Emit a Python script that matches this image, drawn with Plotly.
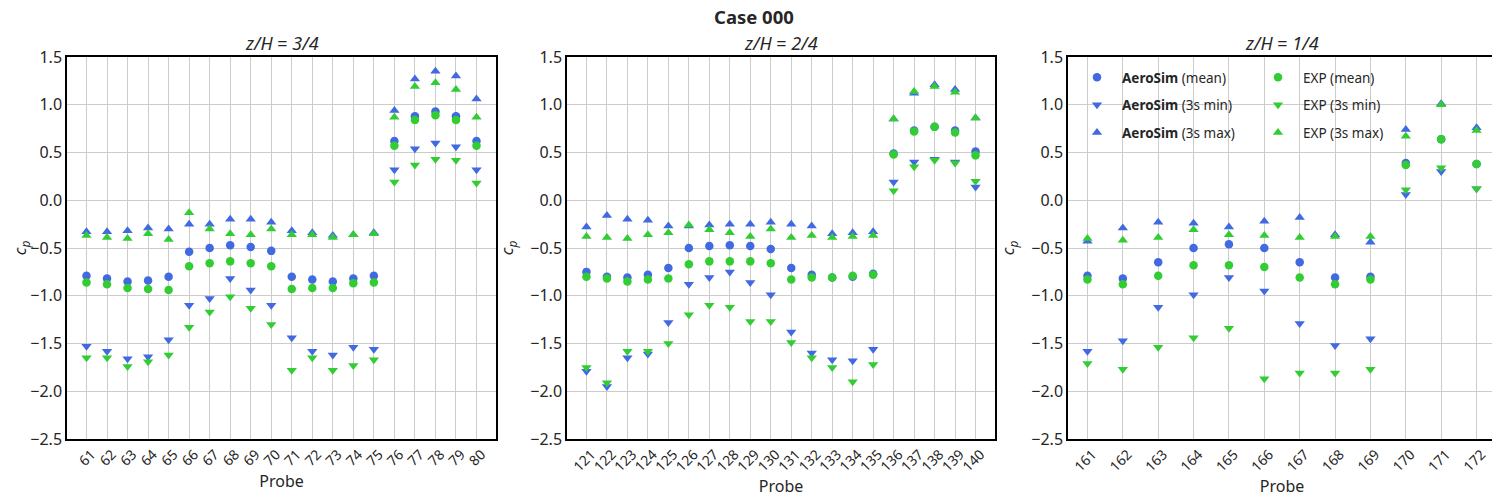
import plotly.graph_objects as go

# ---------------- data ----------------
probes1 = list(range(61, 81))
probes2 = list(range(121, 141))
probes3 = list(range(161, 173))

a1_mean = [-0.79, -0.82, -0.85, -0.84, -0.80, -0.54, -0.50, -0.47, -0.49, -0.53, -0.80, -0.83, -0.85, -0.82, -0.79, 0.62, 0.88, 0.93, 0.88, 0.62]
a1_min = [-1.53, -1.58, -1.66, -1.64, -1.46, -1.10, -1.03, -0.82, -0.94, -1.10, -1.44, -1.58, -1.62, -1.54, -1.56, 0.32, 0.54, 0.60, 0.56, 0.32]
a1_max = [-0.33, -0.33, -0.32, -0.29, -0.30, -0.25, -0.25, -0.20, -0.20, -0.23, -0.32, -0.34, -0.37, -0.36, -0.34, 0.94, 1.27, 1.35, 1.30, 1.06]
e1_mean = [-0.86, -0.88, -0.92, -0.93, -0.94, -0.69, -0.66, -0.64, -0.66, -0.69, -0.93, -0.92, -0.92, -0.87, -0.86, 0.57, 0.84, 0.89, 0.84, 0.57]
e1_min = [-1.65, -1.65, -1.74, -1.69, -1.62, -1.33, -1.17, -1.01, -1.13, -1.30, -1.78, -1.65, -1.78, -1.73, -1.67, 0.19, 0.37, 0.43, 0.42, 0.18]
e1_max = [-0.37, -0.39, -0.40, -0.35, -0.41, -0.13, -0.30, -0.35, -0.36, -0.30, -0.36, -0.36, -0.39, -0.36, -0.35, 0.87, 1.19, 1.23, 1.16, 0.87]

a2_mean = [-0.75, -0.80, -0.81, -0.78, -0.71, -0.50, -0.48, -0.47, -0.48, -0.51, -0.71, -0.78, -0.81, -0.80, -0.77, 0.49, 0.73, 0.77, 0.73, 0.51]
a2_min = [-1.79, -1.95, -1.65, -1.61, -1.28, -0.88, -0.81, -0.75, -0.86, -0.99, -1.38, -1.60, -1.67, -1.68, -1.56, 0.19, 0.40, 0.43, 0.40, 0.14]
a2_max = [-0.28, -0.16, -0.20, -0.21, -0.27, -0.27, -0.26, -0.25, -0.25, -0.23, -0.25, -0.27, -0.35, -0.34, -0.33, 0.85, 1.12, 1.21, 1.16, 0.86]
e2_mean = [-0.80, -0.82, -0.85, -0.83, -0.82, -0.67, -0.64, -0.64, -0.64, -0.66, -0.83, -0.81, -0.81, -0.79, -0.78, 0.48, 0.72, 0.77, 0.71, 0.47]
e2_min = [-1.75, -1.91, -1.58, -1.58, -1.50, -1.20, -1.10, -1.12, -1.27, -1.27, -1.49, -1.65, -1.75, -1.90, -1.72, 0.10, 0.35, 0.42, 0.39, 0.20]
e2_max = [-0.38, -0.39, -0.40, -0.36, -0.34, -0.26, -0.31, -0.34, -0.38, -0.30, -0.39, -0.37, -0.39, -0.38, -0.37, 0.85, 1.14, 1.19, 1.13, 0.86]

a3_mean = [-0.79, -0.82, -0.65, -0.50, -0.46, -0.50, -0.65, -0.81, -0.80, 0.39, 0.64, 0.38]
a3_min = [-1.58, -1.47, -1.12, -0.99, -0.81, -0.95, -1.29, -1.52, -1.45, 0.06, 0.30, 0.12]
a3_max = [-0.43, -0.29, -0.23, -0.24, -0.28, -0.22, -0.18, -0.36, -0.44, 0.74, 1.01, 0.76]
e3_mean = [-0.83, -0.88, -0.79, -0.68, -0.68, -0.70, -0.81, -0.88, -0.83, 0.37, 0.64, 0.38]
e3_min = [-1.71, -1.77, -1.54, -1.44, -1.34, -1.87, -1.81, -1.81, -1.77, 0.11, 0.34, 0.12]
e3_max = [-0.40, -0.42, -0.39, -0.31, -0.36, -0.37, -0.39, -0.38, -0.38, 0.67, 1.00, 0.73]

panel_titles = ["<i>z/H</i> = <i>3/4</i>", "<i>z/H</i> = <i>2/4</i>", "<i>z/H</i> = <i>1/4</i>"]

# ---------------- styling ----------------
BLUE = "#4169E1"
GREEN = "#32CD32"
FONT = "Noto Sans"
TXT = "#262626"
# the page body has an 8px margin, so the figure is drawn 8px smaller
W, H = 1492, 492
PT, PB = 49, 431          # plot area top / bottom (px in figure)
MT, MB = PT, H - PB
PH = PB - PT
x_px = [(59, 488), (559, 987), (1060, 1488)]
x_domains = [(a / W, b / W) for a, b in x_px]

panels = [
    (probes1, a1_mean, a1_min, a1_max, e1_mean, e1_min, e1_max),
    (probes2, a2_mean, a2_min, a2_max, e2_mean, e2_min, e2_max),
    (probes3, a3_mean, a3_min, a3_max, e3_mean, e3_min, e3_max),
]

fig = go.Figure()

series_styles = [
    ("<b>AeroSim</b> (mean)", BLUE, "circle", 8.5, "legend"),
    ("<b>AeroSim</b> (3s min)", BLUE, "triangle-down", 9, "legend"),
    ("<b>AeroSim</b> (3s max)", BLUE, "triangle-up", 9, "legend"),
    ("EXP (mean)", GREEN, "circle", 8.5, "legend2"),
    ("EXP (3s min)", GREEN, "triangle-down", 9, "legend2"),
    ("EXP (3s max)", GREEN, "triangle-up", 9, "legend2"),
]

for i, p in enumerate(panels):
    probes = p[0]
    suffix = "" if i == 0 else str(i + 1)
    for j, (name, color, sym, size, leg) in enumerate(series_styles):
        fig.add_trace(go.Scatter(
            x=probes, y=p[j + 1], mode="markers", name=name,
            marker=dict(color=color, symbol=sym, size=size, line=dict(width=0)),
            xaxis="x" + suffix, yaxis="y" + suffix,
            showlegend=(i == 2), legend=leg, legendgroup=name,
        ))

legend_common = dict(xanchor="left", yanchor="top", bgcolor="rgba(0,0,0,0)",
                     font=dict(size=13.5, color=TXT), tracegroupgap=7, itemwidth=40)

layout = dict(
    width=W, height=H,
    margin=dict(l=0, r=0, t=MT, b=MB, pad=0),
    paper_bgcolor="white", plot_bgcolor="white",
    font=dict(family=FONT, size=16, color=TXT),
    legend=dict(x=1064 / W, y=1 - 5 / PH, **legend_common),
    legend2=dict(x=1245 / W, y=1 - 5 / PH, **legend_common),
    annotations=[dict(
        text="<b>Case 000</b>", xref="paper", yref="paper",
        x=0.5, y=1 + (PT - 8) / PH, xanchor="center", yanchor="middle", showarrow=False,
        font=dict(size=18.5, color=TXT, family=FONT),
    )],
)

for i, p in enumerate(panels):
    probes = p[0]
    suffix = "" if i == 0 else str(i + 1)
    span = probes[-1] - probes[0]
    layout["xaxis" + suffix] = dict(
        domain=list(x_domains[i]), anchor="y" + suffix,
        range=[probes[0] - 0.05 * span, probes[-1] + 0.05 * span],
        tickmode="array", tickvals=probes, ticktext=[str(v) for v in probes],
        tickangle=-45, tickfont=dict(size=14, color=TXT),
        ticklabelshift=5, ticklabelstandoff=0,
        showgrid=True, gridcolor="#cccccc", gridwidth=1,
        showline=True, linecolor="black", linewidth=1.5, mirror=True,
        zeroline=False, ticks="",
        title=dict(text="Probe", font=dict(size=16, color=TXT), standoff=6),
        automargin=False,
    )
    layout["yaxis" + suffix] = dict(
        domain=[0, 1], anchor="x" + suffix,
        range=[-2.5, 1.5], dtick=0.5, tick0=0, tickformat=".1f",
        tickfont=dict(size=16, color=TXT),
        showgrid=True, gridcolor="#cccccc", gridwidth=1,
        showline=True, linecolor="black", linewidth=1.5, mirror=True,
        zeroline=False, ticks="",
        title=dict(text="<i>c</i><sub><i>p</i></sub>", font=dict(size=17, color=TXT), standoff=12),
        automargin=False,
    )
    layout["annotations"].append(dict(
        text=panel_titles[i], xref="x" + suffix + " domain", yref="y" + suffix + " domain",
        x=0.5, y=1, xanchor="center", yanchor="bottom", yshift=0, showarrow=False,
        font=dict(size=18, color=TXT, family=FONT),
    ))

fig.update_layout(**layout)
fig.write_html("out.html")
